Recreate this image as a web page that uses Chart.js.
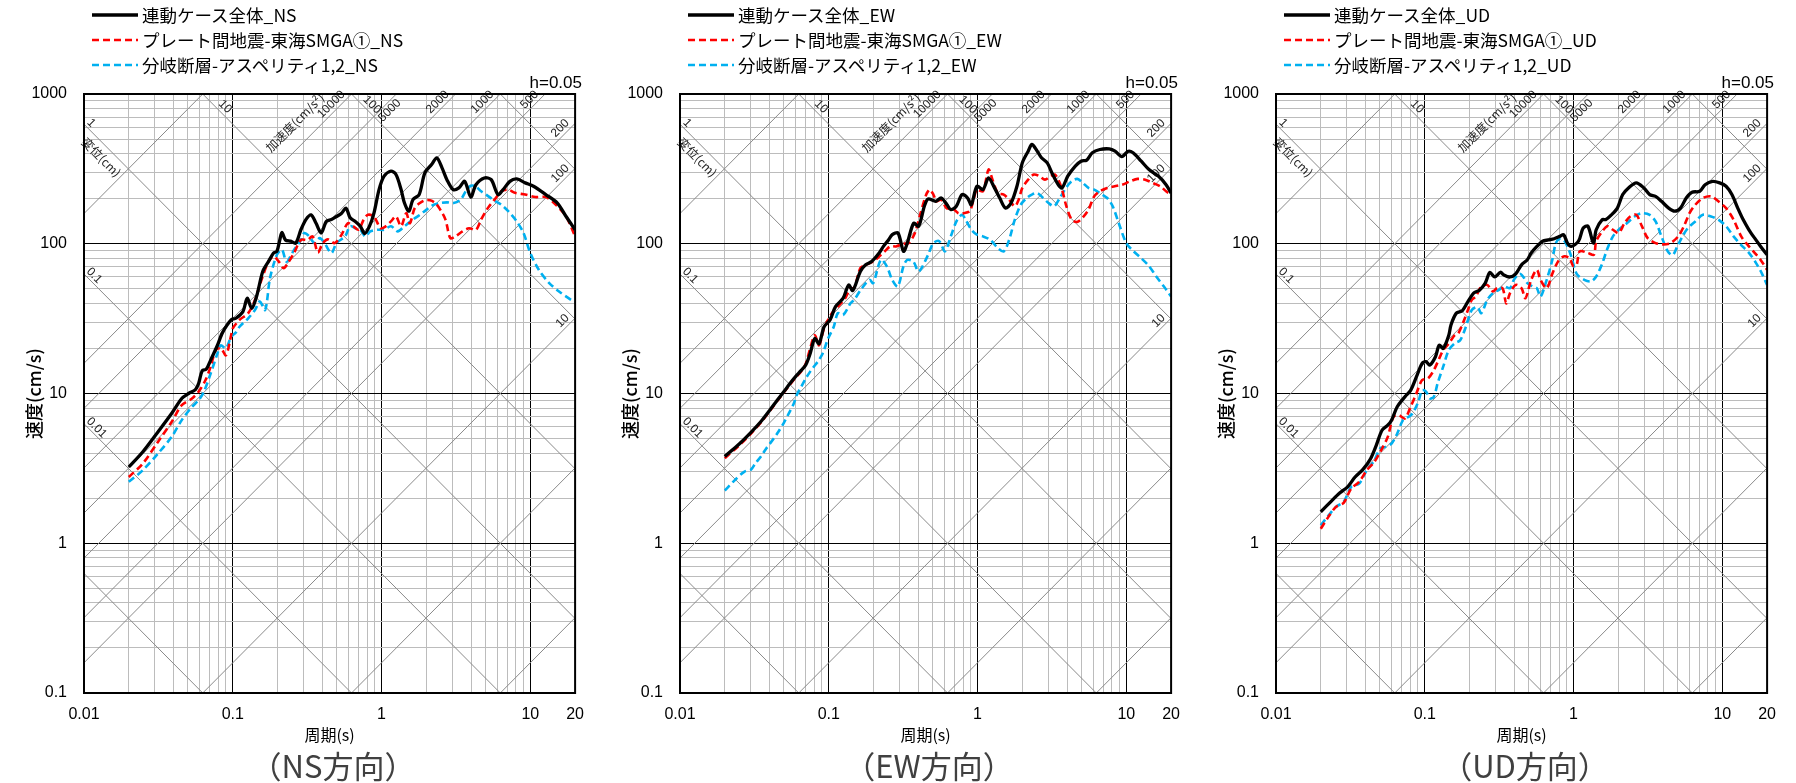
<!DOCTYPE html>
<html><head><meta charset="utf-8">
<script src="https://cdn.jsdelivr.net/npm/chart.js@4.4.1/dist/chart.umd.min.js"></script>
<style>
html,body{margin:0;padding:0;background:#fff;}
#wrap{position:relative;width:1796px;height:783px;overflow:hidden;background:#fff;}
.panel{position:absolute;top:0;width:596px;height:783px;}
.panel canvas{position:absolute;left:0;top:0;}
.legend{position:absolute;left:92px;top:2px;font-family:"Noto Sans CJK JP",sans-serif;font-size:17.5px;color:#000;}
.lg{display:flex;align-items:center;height:25px;white-space:nowrap;}
.lg canvas{position:static;margin-right:4px;}
.hval{position:absolute;right:14px;top:72px;font-family:"Liberation Sans",Arial,sans-serif;font-size:17px;line-height:22px;color:#000;}
.cap{position:absolute;left:84px;width:498px;top:745px;text-align:center;font-family:"Noto Sans CJK JP",sans-serif;font-size:31px;line-height:40px;color:#404040;}
</style>
</head><body>
<div id="wrap"></div>
<script>
// ---------- tick definitions ----------
const periodTicks = [0.01,0.02,0.03,0.04,0.05,0.06,0.07,0.08,0.09,0.1,0.2,0.3,0.4,0.5,0.6,0.7,0.8,0.9,1,2,3,4,5,6,7,8,9,10,20];
const periodLabelVals = [0.01,0.1,1,10,20];
const periodLabelText = ['0.01','0.1','1','10','20'];
const velocityTicks = [0.1,0.2,0.3,0.4,0.5,0.6,0.7,0.8,0.9,1,2,3,4,5,6,7,8,9,10,20,30,40,50,60,70,80,90,100,200,300,400,500,600,700,800,900,1000];
const velocityLabelVals = [0.1,1,10,100,1000];
const velocityLabelText = ['0.1','1','10','100','1000'];

// tripartite guide lines
const dispLines = [0.001,0.01,0.1,1,10,100,1000];          // cm
const accLines = [0.1,1,10,100,200,500,1000,2000,5000,10000,100000]; // cm/s2

// ---------- series names ----------
const namesNS = ['連動ケース全体_NS','プレート間地震-東海SMGA①_NS','分岐断層-アスペリティ1,2_NS'];
const namesEW = ['連動ケース全体_EW','プレート間地震-東海SMGA①_EW','分岐断層-アスペリティ1,2_EW'];
const namesUD = ['連動ケース全体_UD','プレート間地震-東海SMGA①_UD','分岐断層-アスペリティ1,2_UD'];
const captions = ['（NS方向）','（EW方向）','（UD方向）'];

// ---------- NS ----------
const nsBlackT = [0.02,0.0248,0.0314,0.0388,0.0454,0.0505,0.0561,0.059,0.0623,0.0663,0.071,0.0789,0.0853,0.0975,0.105,0.117,0.125,0.134,0.1445,0.159,0.174,0.188,0.198,0.207,0.214,0.226,0.245,0.265,0.287,0.31,0.336,0.363,0.393,0.425,0.46,0.498,0.539,0.577,0.615,0.666,0.72,0.771,0.83,0.889,0.962,1.04,1.156,1.25,1.353,1.426,1.527,1.626,1.79,1.955,2.17,2.35,2.55,2.75,3.03,3.31,3.62,3.98,4.31,4.91,5.46,6.06,6.56,7.29,8.1,9.25,10.5,12.7,15.2,17.4,20];
const nsBlackV = [3.23,4.07,5.54,7.35,9.26,10.0,10.6,11.7,14.2,14.5,16.7,21,25.5,31,31.8,35.2,43.3,37,44.4,65.3,76.2,86.7,89,106,119,106,104,101,124,145,156,137,118,141,145,152,160,173,149,141,131,117,131,160,230,283,305,290,230,187,165,197,213,297,338,375,321,268,230,236,261,205,248,275,268,213,230,261,271,255,242,213,187,152,124];
const nsRedT = [0.02,0.0248,0.0314,0.0388,0.0454,0.0532,0.059,0.0656,0.071,0.0769,0.0832,0.09,0.0975,0.1,0.111,0.127,0.141,0.156,0.174,0.188,0.204,0.22,0.238,0.258,0.287,0.318,0.344,0.373,0.403,0.436,0.485,0.539,0.593,0.644,0.701,0.759,0.81,0.889,0.986,1.07,1.156,1.25,1.353,1.465,1.55,1.67,1.81,1.955,2.12,2.3,2.48,2.69,2.9,3.14,3.5,3.88,4.31,4.67,5.18,5.75,6.39,7.1,7.89,9.25,10.8,12.7,14.8,17.4,20];
const nsRedV = [2.77,3.4,4.75,6.46,8.36,9.26,10.3,12.3,15.1,19.5,20,18,24.5,27.2,31,34.4,42.2,57.4,76.2,82.3,76,68.7,76,86.7,106,106,112,87.5,101,107,101,115,137,131,124,145,156,152,127,131,141,152,131,160,137,173,187,195,195,187,169,145,109,112,121,127,124,145,173,197,224,230,219,213,205,205,183,152,112];
const nsBlueT = [0.02,0.0248,0.0314,0.0388,0.0454,0.0532,0.059,0.064,0.071,0.0789,0.0832,0.09,0.0975,0.105,0.111,0.127,0.141,0.152,0.165,0.178,0.198,0.214,0.23,0.258,0.287,0.302,0.327,0.354,0.384,0.414,0.46,0.498,0.569,0.615,0.666,0.72,0.778,0.84,0.935,1.04,1.156,1.285,1.426,1.626,1.81,2.01,2.23,2.48,2.75,3.05,3.4,3.68,3.98,4.31,4.67,5.05,5.61,6.39,7.1,8.1,9.0,10,11.4,13.4,15.6,18.8,20];
const nsBlueV = [2.57,3.07,3.97,5.13,6.64,8.15,9.02,10.3,13.6,18.5,21,20,23.9,25.6,27.9,31.8,36.1,41.1,36.1,59,84.3,91.2,76,91,106,118,112,101,109,101,86.7,101,112,131,127,124,112,121,124,124,131,121,131,145,156,169,182,187,189,187,197,224,244,241,224,213,197,182,165,141,118,86.7,67,54.6,48,42.2,41];

// ---------- EW ----------
const ewBlackT = [0.02,0.025,0.03,0.035,0.04,0.045,0.05,0.055,0.06,0.065,0.07,0.075,0.0805,0.086,0.093,0.102,0.111,0.125,0.136,0.145,0.163,0.177,0.194,0.218,0.233,0.252,0.267,0.292,0.318,0.337,0.372,0.402,0.439,0.465,0.524,0.57,0.624,0.661,0.72,0.787,0.858,0.908,0.99,1.087,1.186,1.3,1.41,1.54,1.68,1.84,2.0,2.19,2.32,2.52,2.69,2.94,3.2,3.49,3.7,4.04,4.54,4.96,5.42,5.91,6.64,7.69,8.4,9.33,10.3,11.1,12.6,14.2,16.4,18.5,20];
const ewBlackV = [3.8,4.6,5.5,6.5,7.7,9.0,10.3,11.7,13.0,14.2,15.5,18.5,23.3,21.5,27.9,31,38,43.3,53,48.7,65.3,72.3,76,86.7,96,106,115,118,89,101,137,131,178,199,192,202,182,169,178,213,202,182,242,230,275,236,202,173,187,242,347,415,460,415,375,347,290,248,236,283,330,356,362,405,426,430,415,382,415,405,356,313,283,248,218];
const ewRedT = [0.02,0.025,0.03,0.035,0.04,0.045,0.05,0.055,0.06,0.065,0.07,0.075,0.0805,0.086,0.093,0.105,0.115,0.129,0.14,0.148,0.163,0.177,0.199,0.218,0.238,0.259,0.283,0.318,0.345,0.379,0.414,0.452,0.477,0.505,0.53,0.57,0.62,0.676,0.743,0.81,0.886,0.94,0.99,1.087,1.186,1.26,1.37,1.5,1.63,1.78,1.89,2.0,2.19,2.39,2.6,2.84,3.1,3.3,3.49,3.7,3.93,4.29,4.68,5.1,5.57,6.08,6.64,7.44,8.36,9.37,10.6,11.9,13.4,15.0,16.9,18.5,20];
const ewRedV = [3.7,4.5,5.4,6.4,7.6,8.9,10.2,11.5,12.8,14.0,15.8,20,24.5,21,27.2,34.4,38,43.3,50.5,50.5,68.7,72.3,76,82.3,89,96,96,100,101,118,160,213,230,213,192,197,173,173,160,160,165,197,230,224,313,268,218,213,197,178,197,236,268,290,283,268,283,290,268,230,182,145,140,150,169,207,224,236,242,248,261,271,268,255,242,224,213];
const ewBlueT = [0.02,0.023,0.027,0.03,0.032,0.035,0.038,0.042,0.045,0.05,0.054,0.058,0.061,0.065,0.07,0.075,0.079,0.085,0.091,0.099,0.108,0.115,0.125,0.14,0.148,0.167,0.188,0.199,0.224,0.245,0.267,0.291,0.318,0.337,0.37,0.4,0.42,0.465,0.505,0.553,0.604,0.661,0.721,0.787,0.83,0.91,0.99,1.087,1.22,1.37,1.5,1.63,1.78,1.95,2.14,2.32,2.52,2.76,3.0,3.27,3.57,3.93,4.29,4.68,5.1,5.57,6.08,6.64,7.44,8.1,8.9,10,11.2,12.6,14.2,15.9,17.9,20];
const ewBlueV = [2.25,2.6,3.0,3.1,3.4,3.8,4.3,4.9,5.4,6.4,7.4,8.5,9.8,11.0,12.6,14,15,16.5,18.5,23.3,27.9,34.4,33.5,40,42.2,50.5,57.4,54.6,78.2,71,57.4,51.8,71,78,76,65.3,68.7,84.3,101,104,89,112,141,156,145,124,115,112,106,93.5,89,106,145,182,202,213,218,202,187,178,202,236,261,271,255,236,230,218,202,178,137,101,89,80,71,60.4,51.8,44.4];

// ---------- UD ----------
const udBlackT = [0.02,0.0239,0.0269,0.0303,0.034,0.0383,0.0432,0.0472,0.0516,0.0564,0.0598,0.0653,0.0735,0.0803,0.0878,0.096,0.102,0.108,0.118,0.125,0.133,0.145,0.15,0.163,0.179,0.195,0.213,0.233,0.255,0.274,0.295,0.323,0.339,0.374,0.409,0.447,0.489,0.519,0.567,0.619,0.677,0.74,0.808,0.858,0.91,0.965,1.08,1.16,1.25,1.36,1.42,1.56,1.65,1.8,1.97,2.14,2.34,2.64,2.97,3.25,3.56,3.9,4.36,4.78,5.23,5.72,6.26,7.05,7.66,8.6,9.6,10.6,11.6,12.7,13.8,15.1,16.5,18.1,20];
const udBlackV = [1.62,1.94,2.17,2.38,2.77,3.1,3.67,4.51,5.68,6.14,6.64,8.15,9.5,10.5,12.9,15.9,16.3,15.5,17.6,21,20,24.5,28.7,34.4,35.8,41.1,46.8,49,54.6,64.3,60,64.5,62,60,63,72.3,78.2,86.7,96,104,106,108,112,115,101,96,104,127,131,101,124,145,145,156,173,213,236,255,236,213,207,192,173,165,173,202,221,224,248,261,255,242,213,173,145,124,109,96,84.3];
const udRedT = [0.02,0.0225,0.0253,0.0285,0.032,0.0362,0.0407,0.0458,0.0516,0.0564,0.0616,0.0673,0.0735,0.0803,0.0878,0.096,0.105,0.115,0.125,0.133,0.145,0.159,0.168,0.184,0.195,0.207,0.22,0.24,0.263,0.287,0.305,0.333,0.353,0.374,0.409,0.447,0.475,0.519,0.567,0.6,0.66,0.72,0.786,0.858,0.94,0.995,1.05,1.1,1.25,1.37,1.42,1.56,1.69,1.84,2.01,2.2,2.4,2.64,2.88,3.15,3.56,4.0,4.48,5.05,5.52,6.02,6.58,7.4,8.4,9.4,10.6,11.9,13.4,15.1,16.5,18.1,20];
const udRedV = [1.25,1.5,1.75,1.86,2.32,2.57,3.07,3.49,4.29,5.13,6.98,7.15,6.8,8.15,10,12.3,12.6,14.3,17.1,19.5,21.6,24.5,25.2,31,36.1,42.2,44.4,51.8,53.1,48,50.5,50.5,40,46.8,53.1,50.5,43.3,57.4,67,57.4,50.5,63,76,82.3,80,71,72.5,89,86.7,84.3,104,121,131,124,118,137,152,156,131,109,101,99,101,112,131,160,182,202,207,192,173,145,112,96,87,78,67];
const udBlueT = [0.02,0.0225,0.0253,0.0285,0.032,0.0362,0.0407,0.0458,0.05,0.0547,0.0598,0.0653,0.0714,0.078,0.0827,0.0904,0.096,0.102,0.108,0.115,0.122,0.133,0.145,0.159,0.173,0.189,0.207,0.226,0.24,0.263,0.287,0.313,0.342,0.374,0.397,0.434,0.46,0.489,0.533,0.567,0.6,0.66,0.72,0.76,0.808,0.858,0.91,0.965,1.05,1.18,1.31,1.42,1.56,1.69,1.84,2.01,2.28,2.57,2.88,3.25,3.56,3.9,4.3,4.64,4.98,5.4,5.86,6.58,7.4,8.4,9.4,10.6,11.9,13.4,15.1,16.9,18.5,20];
const udBlueV = [1.32,1.53,1.75,1.89,2.38,2.5,3.07,3.57,4.29,4.4,4.63,5.4,6.64,7.0,7.35,8.8,10.5,10.3,9.26,9.5,11.7,15.1,19.5,21.6,22.7,27.9,36.1,37.7,34.4,42.2,46.8,49,51.8,50.5,57.4,63,60,54.6,51.8,50.5,44.4,57.4,78,101,108,106,96,82.3,63,57.4,56,60.4,74,93,112,124,137,152,160,156,141,112,89,84,96,112,127,141,156,152,145,131,112,98,87,74,63,53];

// ---------- styling (not data) ----------
const seriesColors = ['#000000','#ff0000','#00b0f0'];
const seriesWidths = [3.3,2.6,2.6];
const seriesDash = [[],[7,4],[7,4]];
const FONT_NUM = '"Liberation Sans", Arial, sans-serif';
const FONT_JP = '"Noto Sans CJK JP", sans-serif';

function isDecade(v){const l=Math.log10(v);return Math.abs(l-Math.round(l))<1e-6;}
function labelFor(v, vals, texts){for(let i=0;i<vals.length;i++){if(Math.abs(vals[i]-v)/vals[i]<1e-6)return texts[i];}return '';}

const tripartite = {
  id:'tripartite',
  beforeDatasetsDraw(chart){
    const {ctx, chartArea:a, scales:{x,y}} = chart;
    const T0=x.min, T1=x.max, V1=y.max;
    const P=(t,v)=>[x.getPixelForValue(t), y.getPixelForValue(v)];
    ctx.save();
    ctx.beginPath(); ctx.rect(a.left,a.top,a.right-a.left,a.bottom-a.top); ctx.clip();
    ctx.strokeStyle='#8a8a8a'; ctx.lineWidth=1;
    const seg=(p,q)=>{ctx.beginPath();ctx.moveTo(p[0],p[1]);ctx.lineTo(q[0],q[1]);ctx.stroke();};
    for(const d of dispLines) seg(P(T0,2*Math.PI*d/T0),P(T1,2*Math.PI*d/T1));
    for(const g of accLines) seg(P(T0,g*T0/(2*Math.PI)),P(T1,g*T1/(2*Math.PI)));
    ctx.restore();

    // labels
    ctx.save();
    ctx.fillStyle='#222';
    ctx.font='12px '+FONT_NUM;
    const put=(px,py,ang,text,align,base,off,font)=>{
      ctx.save(); ctx.translate(px,py); ctx.rotate(ang);
      ctx.textAlign=align; ctx.textBaseline=base; if(font) ctx.font=font;
      ctx.fillText(text,0,off); ctx.restore();
    };
    const dispDir=(d)=>{const p=P(T0,2*Math.PI*d/T0),q=P(T1,2*Math.PI*d/T1);const L=Math.hypot(q[0]-p[0],q[1]-p[1]);return [(q[0]-p[0])/L,(q[1]-p[1])/L];};
    const dispLeft=[[1,'1',1,'bottom',0],[0.1,'0.1',0,'bottom',0],[0.01,'0.01',0,'bottom',0]];
    for(const [d,t,s,b,o] of dispLeft){const u=dispDir(d);const h=P(T0,2*Math.PI*d/T0);put(h[0]+s*u[0],h[1]+s*u[1],Math.atan2(u[1],u[0]),t,'left',b,o);}
    { const u=dispDir(1); const h=P(T0,2*Math.PI*1/T0); put(h[0]+11*u[0],h[1]+11*u[1],Math.atan2(u[1],u[0]),'変位(cm)','left','top',5,'12px '+FONT_JP); }
    const dispTop=[[10,'10',18],[100,'100',12]];
    for(const [d,t,s] of dispTop){const u=dispDir(d);const h=P(2*Math.PI*d/V1,V1);put(h[0]+s*u[0],h[1]+s*u[1],Math.atan2(u[1],u[0]),t,'left','bottom',-1);}
    const accDir=(g)=>{const p=P(T0,g*T0/(2*Math.PI)),q=P(T1,g*T1/(2*Math.PI));const L=Math.hypot(q[0]-p[0],q[1]-p[1]);return [(q[0]-p[0])/L,(q[1]-p[1])/L];};
    const accTop=[[10000,'10000',5,'bottom',-1],[5000,'5000',3,'top',1],[2000,'2000',5,'bottom',-1],[1000,'1000',5,'bottom',-1],[500,'500',5,'bottom',-1]];
    for(const [g,t,s,b,o] of accTop){const u=accDir(g);const h=P(2*Math.PI*V1/g,V1);put(h[0]-s*u[0],h[1]-s*u[1],Math.atan2(u[1],u[0]),t,'right',b,o);}
    { const g=10000,u=accDir(g);const h=P(2*Math.PI*V1/g,V1); put(h[0]-22*u[0],h[1]-22*u[1],Math.atan2(u[1],u[0]),'加速度(cm/s²)','right','bottom',-14,'12px '+FONT_JP); }
    const accRight=[[200,'200',4],[100,'100',4],[10,'10',4]];
    for(const [g,t,s] of accRight){const u=accDir(g);const h=P(T1,g*T1/(2*Math.PI));put(h[0]-s*u[0],h[1]-s*u[1],Math.atan2(u[1],u[0]),t,'right','bottom',-1);}
    ctx.restore();
  },
  afterDraw(chart){
    const {ctx, chartArea:a} = chart;
    ctx.save(); ctx.strokeStyle='#000'; ctx.lineWidth=2;
    ctx.strokeRect(a.left,a.top,a.right-a.left,a.bottom-a.top); ctx.restore();
  }
};

const panels = [
  {names:namesNS, data:[[nsBlackT,nsBlackV],[nsRedT,nsRedV],[nsBlueT,nsBlueV]]},
  {names:namesEW, data:[[ewBlackT,ewBlackV],[ewRedT,ewRedV],[ewBlueT,ewBlueV]]},
  {names:namesUD, data:[[udBlackT,udBlackV],[udRedT,udRedV],[udBlueT,udBlueV]]}
];

const wrap=document.getElementById('wrap');
panels.forEach((pn,pi)=>{
  const div=document.createElement('div'); div.className='panel'; div.style.left=(pi*596)+'px';
  wrap.appendChild(div);
  const cv=document.createElement('canvas'); cv.width=596; cv.height=783; cv.style.width='596px'; cv.style.height='783px';
  div.appendChild(cv);
  const lg=document.createElement('div'); lg.className='legend';
  pn.names.forEach((nm,si)=>{
    const row=document.createElement('div'); row.className='lg';
    const sc=document.createElement('canvas'); sc.width=46; sc.height=8;
    const c=sc.getContext('2d'); c.strokeStyle=seriesColors[si]; c.lineWidth=seriesWidths[si]; c.setLineDash(seriesDash[si]);
    c.beginPath(); c.moveTo(0,4); c.lineTo(46,4); c.stroke();
    row.appendChild(sc);
    const sp=document.createElement('span'); sp.textContent=nm; row.appendChild(sp);
    lg.appendChild(row);
  });
  div.appendChild(lg);
  const h=document.createElement('div'); h.className='hval'; h.textContent='h=0.05'; div.appendChild(h);
  const cap=document.createElement('div'); cap.className='cap'; cap.textContent=captions[pi]; div.appendChild(cap);

  new Chart(cv,{
    type:'line',
    data:{datasets:pn.data.map((sd,si)=>({
      label:pn.names[si],
      data:sd[0].map((t,i)=>({x:t,y:sd[1][i]})),
      borderColor:seriesColors[si], borderWidth:seriesWidths[si], borderDash:seriesDash[si],
      pointRadius:0, tension:0.3, fill:false
    }))},
    options:{
      responsive:false, animation:false, devicePixelRatio:1,
      layout:{padding:{top:94,right:14,bottom:0,left:0}},
      plugins:{legend:{display:false},tooltip:{enabled:false}},
      scales:{
        x:{type:'logarithmic',min:0.01,max:20,
          afterBuildTicks:(s)=>{s.ticks=periodTicks.map(v=>({value:v}));},
          afterFit:(s)=>{s.height=90;},
          ticks:{autoSkip:false,maxRotation:0,minRotation:0,padding:12,color:'#000',font:{family:FONT_NUM,size:16},
            callback:(v)=>labelFor(v,periodLabelVals,periodLabelText)},
          grid:{drawTicks:false,color:(c)=>c.tick&&isDecade(c.tick.value)?'#000':'#bcbcbc',lineWidth:1},
          border:{display:false},
          title:{display:true,text:'周期(s)',color:'#000',font:{family:FONT_JP,size:16},padding:{top:0,bottom:38}}
        },
        y:{type:'logarithmic',min:0.1,max:1000,
          afterBuildTicks:(s)=>{s.ticks=velocityTicks.map(v=>({value:v}));},
          afterFit:(s)=>{s.width=84;},
          ticks:{autoSkip:false,padding:17,color:'#000',font:{family:FONT_NUM,size:16},
            callback:(v)=>labelFor(v,velocityLabelVals,velocityLabelText)},
          grid:{drawTicks:false,color:(c)=>c.tick&&isDecade(c.tick.value)?'#000':'#bcbcbc',lineWidth:1},
          border:{display:false},
          title:{display:true,text:'速度(cm/s)',color:'#000',font:{family:FONT_JP,size:18,weight:'500'},padding:{top:23,bottom:0}}
        }
      }
    },
    plugins:[tripartite]
  });
});
</script>
</body></html>
